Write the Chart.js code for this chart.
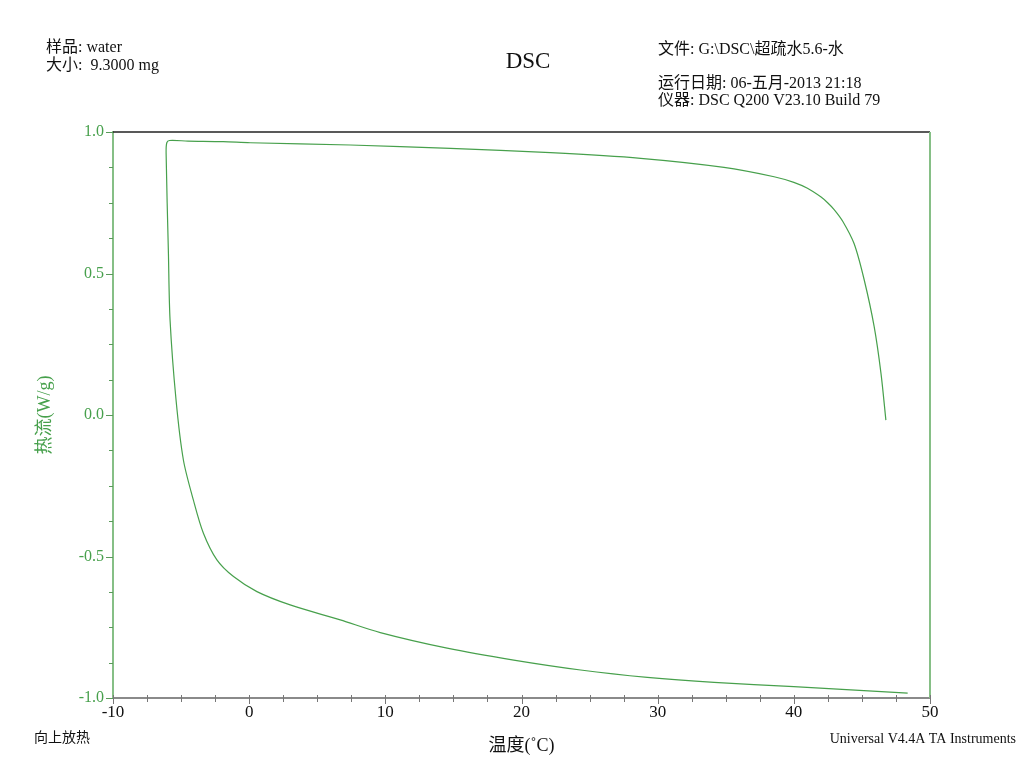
<!DOCTYPE html>
<html>
<head>
<meta charset="utf-8">
<title>DSC</title>
<script src="https://cdn.jsdelivr.net/npm/chart.js@4/dist/chart.umd.min.js"></script>
<style>
  html, body { margin: 0; padding: 0; background: #fff; }
  #wrap { width: 1024px; height: 768px; }
</style>
</head>
<body>
<div id="wrap"><canvas id="dsc" width="1024" height="768"></canvas></div>
<script>
// DSC trace (one continuous loop)
const temperature = [
  46.76, 46.4, 45.9, 45.17, 44.43, 43.6, 42.96, 42.48, 42.0, 41.0, 40.0, 38.55, 34.87,
  28.75, 22.13, 14.78, 7.43, 0.07, -1.91, -4.5, -5.85, -6.05, -6.10, -5.93,
  -5.81, -5.37, -4.83, -4.10, -3.36, -2.37, -1.15, 0.57,
  3.01, 6.69, 9.63, 14.54, 19.43, 24.34, 29.24, 34.14, 40.0, 48.36
];
const heatFlow = [
  -0.018, 0.147, 0.312, 0.477, 0.605, 0.684, 0.726, 0.750, 0.770, 0.801, 0.822, 0.842, 0.875,
  0.907, 0.927, 0.942, 0.954, 0.962, 0.966, 0.968, 0.970, 0.962, 0.926, 0.572,
  0.336, 0.053, -0.159, -0.300, -0.418, -0.512, -0.571, -0.624,
  -0.671, -0.724, -0.769, -0.824, -0.866, -0.901, -0.927, -0.945, -0.960, -0.983
];
const xTicks = [-10, 0, 10, 20, 30, 40, 50];
const yTicks = [-1.0, -0.5, 0.0, 0.5, 1.0];

const serif = '"Liberation Serif", "Times New Roman", "Noto Sans CJK SC", serif';
const green = '#47a04c';
const axisGreen = '#86bf86';

const points = temperature.map((t, i) => ({ x: t, y: heatFlow[i] }));

// minor ticks, outer frame and header texts
const framePlugin = {
  id: 'frame',
  afterDraw(chart) {
    const ctx = chart.ctx;
    const a = chart.chartArea;
    const xs = chart.scales.x, ys = chart.scales.y;
    ctx.save();
    // top border
    ctx.strokeStyle = '#222';
    ctx.lineWidth = 1.5;
    ctx.beginPath(); ctx.moveTo(a.left, a.top); ctx.lineTo(a.right, a.top); ctx.stroke();
    // right border
    ctx.strokeStyle = axisGreen;
    ctx.lineWidth = 2;
    ctx.beginPath(); ctx.moveTo(a.right, a.top); ctx.lineTo(a.right, a.bottom); ctx.stroke();

    // x ticks
    ctx.strokeStyle = '#777';
    ctx.lineWidth = 1;
    for (let v = -10; v <= 50.001; v += 2.5) {
      const px = Math.round(xs.getPixelForValue(v)) + 0.5;
      const len = (Math.abs(v % 10) < 0.01) ? 6 : 4;
      ctx.beginPath(); ctx.moveTo(px, a.bottom - 3); ctx.lineTo(px, a.bottom + len); ctx.stroke();
    }
    // y ticks
    ctx.strokeStyle = '#5a9a5a';
    for (let v = -1; v <= 1.001; v += 0.125) {
      const py = Math.round(ys.getPixelForValue(v)) + 0.5;
      const len = (Math.abs((v * 2) % 1) < 0.01) ? 7 : 4;
      ctx.beginPath(); ctx.moveTo(a.left - len, py); ctx.lineTo(a.left, py); ctx.stroke();
    }

    // header and footer texts
    ctx.fillStyle = '#111';
    ctx.textBaseline = 'middle';
    ctx.textAlign = 'left';
    ctx.font = '16px ' + serif;
    ctx.fillText('样品: water', 46, 48);
    ctx.fillText('大小:  9.3000 mg', 46, 66);
    ctx.fillText('文件: G:\\DSC\\超疏水5.6-水', 658, 50);
    ctx.fillText('运行日期: 06-五月-2013 21:18', 658, 84);
    ctx.fillText('仪器: DSC Q200 V23.10 Build 79', 658, 101);
    ctx.font = '14px ' + serif;
    ctx.fillText('向上放热', 34, 738);
    ctx.textAlign = 'right';
    ctx.fillText('Universal V4.4A TA Instruments', 1016, 739);
    ctx.textAlign = 'center';
    ctx.font = '23px ' + serif;
    ctx.fillText('DSC', 528, 62);
    ctx.restore();
  }
};

new Chart(document.getElementById('dsc'), {
  type: 'scatter',
  data: {
    datasets: [{
      label: 'DSC',
      data: points,
      showLine: true,
      borderColor: green,
      borderWidth: 1.2,
      pointRadius: 0,
      tension: 0.3,
      fill: false
    }]
  },
  options: {
    responsive: false,
    animation: false,
    layout: { padding: { top: 132, right: 94, left: 0, bottom: 0 } },
    plugins: {
      legend: { display: false },
      tooltip: { enabled: false }
    },
    scales: {
      x: {
        type: 'linear',
        min: -10,
        max: 50,
        afterFit: s => { s.height = 70; },
        afterBuildTicks: s => { s.ticks = xTicks.map(v => ({ value: v })); },
        ticks: {
          color: '#111',
          font: { family: serif, size: 17 },
          padding: 4,
          maxRotation: 0
        },
        grid: { display: false, drawTicks: false },
        border: { display: true, color: '#8a8a8a', width: 2 },
        title: {
          display: true,
          text: '温度(˚C)',
          color: '#111',
          font: { family: serif, size: 18 },
          padding: { top: 0, bottom: 11 }
        }
      },
      y: {
        type: 'linear',
        min: -1,
        max: 1,
        afterFit: s => { s.width = 113; },
        afterBuildTicks: s => { s.ticks = yTicks.map(v => ({ value: v })); },
        ticks: {
          color: green,
          font: { family: serif, size: 16 },
          padding: 9,
          callback: v => v.toFixed(1)
        },
        grid: { display: false, drawTicks: false },
        border: { display: true, color: axisGreen, width: 2 },
        title: {
          display: true,
          text: '热流(W/g)',
          color: green,
          font: { family: serif, size: 18 },
          padding: { top: 34, bottom: 0 }
        }
      }
    }
  },
  plugins: [framePlugin]
});
</script>
</body>
</html>
